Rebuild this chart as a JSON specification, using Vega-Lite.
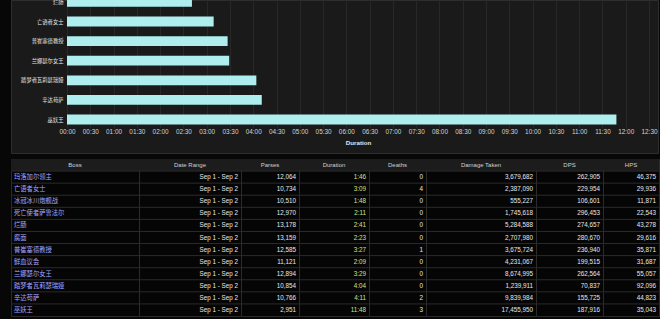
{
  "$schema": "https://vega.github.io/schema/vega-lite/v6.json",
  "background": "#070707",
  "padding": {"top": -2, "left": 10, "right": 2, "bottom": 2},
  "autosize": "pad",
  "spacing": 6,
  "bounds": "flush",
  "config": {
    "font": "Liberation Sans, Noto Sans CJK SC",
    "text": {"fontSize": 6.3, "font": "Liberation Sans, Noto Sans CJK SC"},
    "axis": {"labelFont": "Liberation Sans, Noto Sans CJK SC", "titleFont": "Liberation Sans, Noto Sans CJK SC"}
  },
  "datasets": {
    "bosses": [
      {"Boss": "玛洛加尔领主", "Date": "Sep 1 - Sep 2", "Parses": 12064, "Sec": 106, "Deaths": 0, "DamageTaken": 3679682, "DPS": 262905, "HPS": 46375},
      {"Boss": "亡语者女士", "Date": "Sep 1 - Sep 2", "Parses": 10734, "Sec": 189, "Deaths": 4, "DamageTaken": 2387090, "DPS": 229954, "HPS": 29936},
      {"Boss": "冰冠冰川炮舰战", "Date": "Sep 1 - Sep 2", "Parses": 10510, "Sec": 108, "Deaths": 0, "DamageTaken": 555227, "DPS": 106601, "HPS": 11871},
      {"Boss": "死亡使者萨鲁法尔", "Date": "Sep 1 - Sep 2", "Parses": 12970, "Sec": 131, "Deaths": 0, "DamageTaken": 1745618, "DPS": 296453, "HPS": 22543},
      {"Boss": "烂肠", "Date": "Sep 1 - Sep 2", "Parses": 13178, "Sec": 161, "Deaths": 0, "DamageTaken": 5284588, "DPS": 274657, "HPS": 43278},
      {"Boss": "腐面", "Date": "Sep 1 - Sep 2", "Parses": 13159, "Sec": 143, "Deaths": 0, "DamageTaken": 2707980, "DPS": 280670, "HPS": 29616},
      {"Boss": "普崔塞德教授", "Date": "Sep 1 - Sep 2", "Parses": 12585, "Sec": 207, "Deaths": 1, "DamageTaken": 3675724, "DPS": 236940, "HPS": 35871},
      {"Boss": "鲜血议会", "Date": "Sep 1 - Sep 2", "Parses": 11121, "Sec": 129, "Deaths": 0, "DamageTaken": 4231067, "DPS": 199515, "HPS": 31687},
      {"Boss": "兰娜瑟尔女王", "Date": "Sep 1 - Sep 2", "Parses": 12894, "Sec": 209, "Deaths": 0, "DamageTaken": 8674995, "DPS": 262564, "HPS": 55057},
      {"Boss": "踏梦者瓦莉瑟瑞娅", "Date": "Sep 1 - Sep 2", "Parses": 10854, "Sec": 244, "Deaths": 0, "DamageTaken": 1239911, "DPS": 70837, "HPS": 92096},
      {"Boss": "辛达苟萨", "Date": "Sep 1 - Sep 2", "Parses": 10766, "Sec": 251, "Deaths": 2, "DamageTaken": 9839984, "DPS": 155725, "HPS": 44823},
      {"Boss": "巫妖王", "Date": "Sep 1 - Sep 2", "Parses": 2951, "Sec": 708, "Deaths": 3, "DamageTaken": 17455950, "DPS": 187916, "HPS": 35043}
    ]
  },
  "vconcat": [
    {
      "width": 647,
      "height": 153,
      "data": {"name": "bosses"},
      "view": {"fill": "#1a1a1a", "stroke": "#2e2e2e"},
      "mark": {"type": "bar", "color": "#afeeee", "clip": true},
      "encoding": {
        "x": {
          "field": "Sec", "type": "quantitative",
          "scale": {"domain": [0, 750], "range": [56, 638], "nice": false},
          "axis": {
            "title": "Duration",
            "values": [0, 30, 60, 90, 120, 150, 180, 210, 240, 270, 300, 330, 360, 390, 420, 450, 480, 510, 540, 570, 600, 630, 660, 690, 720, 750],
            "labelExpr": "utcFormat(datum.value * 1000, '%M:%S')",
            "offset": -25,
            "ticks": true,
            "tickSize": -128,
            "tickColor": "#282828",
            "tickWidth": 1,
            "labelPadding": 128.5,
            "domain": false,
            "grid": false,
            "labelFontSize": 6.4,
            "labelColor": "#d4d4d4",
            "labelFlush": false,
            "labelOverlap": false,
            "titleFontSize": 6.2,
            "titleColor": "#e6e6e6",
            "titleFontWeight": "bold",
            "titlePadding": 4.5
          }
        },
        "y": {
          "field": "Boss", "type": "nominal",
          "sort": {"field": "Sec", "order": "ascending"},
          "scale": {"range": [-105.9, 129.3], "paddingInner": 0.5, "paddingOuter": 0.25},
          "axis": {
            "title": null,
            "values": ["烂肠", "亡语者女士", "普崔塞德教授", "兰娜瑟尔女王", "踏梦者瓦莉瑟瑞娅", "辛达苟萨", "巫妖王"],
            "offset": -54,
            "ticks": false,
            "domain": false,
            "grid": false,
            "labelPadding": 2,
            "labelFontSize": 5.3,
            "labelColor": "#e6e6e6"
          }
        }
      }
    },
    {
      "spacing": 0,
      "bounds": "flush",
      "hconcat": [
        {
          "width": 128, "height": 157,
          "view": {"fill": "#050505", "stroke": "#2b2b2b"},
          "layer": [
            {"data": {"values": [{"h": "Boss"}]}, "mark": {"type": "rect", "color": "#1c1c1c"}, "encoding": {"y": {"datum": "hdr", "type": "nominal", "scale": {"domain": ["hdr", "玛洛加尔领主", "亡语者女士", "冰冠冰川炮舰战", "死亡使者萨鲁法尔", "烂肠", "腐面", "普崔塞德教授", "鲜血议会", "兰娜瑟尔女王", "踏梦者瓦莉瑟瑞娅", "辛达苟萨", "巫妖王"], "paddingInner": 0, "paddingOuter": 0}, "axis": null}}},
            {"data": {"values": [{"h": "Boss"}]}, "mark": {"type": "text", "color": "#d0d0d0", "fontSize": 6}, "encoding": {"y": {"datum": "hdr", "type": "nominal"}, "text": {"field": "h"}}},
            {"data": {"name": "bosses"}, "mark": {"type": "rule", "color": "#2b2b2b"}, "encoding": {"y": {"field": "Boss", "type": "nominal", "bandPosition": 0}}},
            {"data": {"name": "bosses"}, "mark": {"type": "text", "align": "left", "dx": 3, "color": "#a4a6ff"}, "encoding": {"x": {"value": 0}, "y": {"field": "Boss", "type": "nominal"}, "text": {"field": "Boss"}}}
          ]
        },
        {
          "width": 102, "height": 157,
          "view": {"fill": "#050505", "stroke": "#2b2b2b"},
          "layer": [
            {"data": {"values": [{"h": "Date Range"}]}, "mark": {"type": "rect", "color": "#1c1c1c"}, "encoding": {"y": {"datum": "hdr", "type": "nominal", "scale": {"domain": ["hdr", "玛洛加尔领主", "亡语者女士", "冰冠冰川炮舰战", "死亡使者萨鲁法尔", "烂肠", "腐面", "普崔塞德教授", "鲜血议会", "兰娜瑟尔女王", "踏梦者瓦莉瑟瑞娅", "辛达苟萨", "巫妖王"], "paddingInner": 0, "paddingOuter": 0}, "axis": null}}},
            {"data": {"values": [{"h": "Date Range"}]}, "mark": {"type": "text", "color": "#d0d0d0", "fontSize": 6}, "encoding": {"y": {"datum": "hdr", "type": "nominal"}, "text": {"field": "h"}}},
            {"data": {"name": "bosses"}, "mark": {"type": "rule", "color": "#2b2b2b"}, "encoding": {"y": {"field": "Boss", "type": "nominal", "bandPosition": 0}}},
            {"data": {"name": "bosses"}, "mark": {"type": "text", "align": "right", "dx": -3, "color": "#e8e8e8"}, "encoding": {"x": {"value": "width"}, "y": {"field": "Boss", "type": "nominal"}, "text": {"field": "Date"}}}
          ]
        },
        {
          "width": 58, "height": 157,
          "view": {"fill": "#050505", "stroke": "#2b2b2b"},
          "layer": [
            {"data": {"values": [{"h": "Parses"}]}, "mark": {"type": "rect", "color": "#1c1c1c"}, "encoding": {"y": {"datum": "hdr", "type": "nominal", "scale": {"domain": ["hdr", "玛洛加尔领主", "亡语者女士", "冰冠冰川炮舰战", "死亡使者萨鲁法尔", "烂肠", "腐面", "普崔塞德教授", "鲜血议会", "兰娜瑟尔女王", "踏梦者瓦莉瑟瑞娅", "辛达苟萨", "巫妖王"], "paddingInner": 0, "paddingOuter": 0}, "axis": null}}},
            {"data": {"values": [{"h": "Parses"}]}, "mark": {"type": "text", "color": "#d0d0d0", "fontSize": 6}, "encoding": {"y": {"datum": "hdr", "type": "nominal"}, "text": {"field": "h"}}},
            {"data": {"name": "bosses"}, "mark": {"type": "rule", "color": "#2b2b2b"}, "encoding": {"y": {"field": "Boss", "type": "nominal", "bandPosition": 0}}},
            {"data": {"name": "bosses"}, "mark": {"type": "text", "align": "right", "dx": -3, "color": "#e8e8e8"}, "encoding": {"x": {"value": "width"}, "y": {"field": "Boss", "type": "nominal"}, "text": {"field": "Parses", "type": "quantitative", "format": ","}}}
          ]
        },
        {
          "width": 70, "height": 157,
          "view": {"fill": "#050505", "stroke": "#2b2b2b"},
          "layer": [
            {"data": {"values": [{"h": "Duration"}]}, "mark": {"type": "rect", "color": "#1c1c1c"}, "encoding": {"y": {"datum": "hdr", "type": "nominal", "scale": {"domain": ["hdr", "玛洛加尔领主", "亡语者女士", "冰冠冰川炮舰战", "死亡使者萨鲁法尔", "烂肠", "腐面", "普崔塞德教授", "鲜血议会", "兰娜瑟尔女王", "踏梦者瓦莉瑟瑞娅", "辛达苟萨", "巫妖王"], "paddingInner": 0, "paddingOuter": 0}, "axis": null}}},
            {"data": {"values": [{"h": "Duration"}]}, "mark": {"type": "text", "color": "#d0d0d0", "fontSize": 6}, "encoding": {"y": {"datum": "hdr", "type": "nominal"}, "text": {"field": "h"}}},
            {"data": {"name": "bosses"}, "mark": {"type": "rule", "color": "#2b2b2b"}, "encoding": {"y": {"field": "Boss", "type": "nominal", "bandPosition": 0}}},
            {"data": {"name": "bosses"}, "transform": [{"calculate": "floor(datum.Sec / 60) + ':' + (datum.Sec % 60 < 10 ? '0' : '') + (datum.Sec % 60)", "as": "DurText"}], "mark": {"type": "text", "align": "right", "dx": -3, "color": "#cbe48f"}, "encoding": {"x": {"value": "width"}, "y": {"field": "Boss", "type": "nominal"}, "text": {"field": "DurText"}}}
          ]
        },
        {
          "width": 57, "height": 157,
          "view": {"fill": "#050505", "stroke": "#2b2b2b"},
          "layer": [
            {"data": {"values": [{"h": "Deaths"}]}, "mark": {"type": "rect", "color": "#1c1c1c"}, "encoding": {"y": {"datum": "hdr", "type": "nominal", "scale": {"domain": ["hdr", "玛洛加尔领主", "亡语者女士", "冰冠冰川炮舰战", "死亡使者萨鲁法尔", "烂肠", "腐面", "普崔塞德教授", "鲜血议会", "兰娜瑟尔女王", "踏梦者瓦莉瑟瑞娅", "辛达苟萨", "巫妖王"], "paddingInner": 0, "paddingOuter": 0}, "axis": null}}},
            {"data": {"values": [{"h": "Deaths"}]}, "mark": {"type": "text", "color": "#d0d0d0", "fontSize": 6}, "encoding": {"y": {"datum": "hdr", "type": "nominal"}, "text": {"field": "h"}}},
            {"data": {"name": "bosses"}, "mark": {"type": "rule", "color": "#2b2b2b"}, "encoding": {"y": {"field": "Boss", "type": "nominal", "bandPosition": 0}}},
            {"data": {"name": "bosses"}, "mark": {"type": "text", "align": "right", "dx": -3, "color": "#e8e8e8"}, "encoding": {"x": {"value": "width"}, "y": {"field": "Boss", "type": "nominal"}, "text": {"field": "Deaths", "type": "quantitative", "format": ","}}}
          ]
        },
        {
          "width": 110, "height": 157,
          "view": {"fill": "#050505", "stroke": "#2b2b2b"},
          "layer": [
            {"data": {"values": [{"h": "Damage Taken"}]}, "mark": {"type": "rect", "color": "#1c1c1c"}, "encoding": {"y": {"datum": "hdr", "type": "nominal", "scale": {"domain": ["hdr", "玛洛加尔领主", "亡语者女士", "冰冠冰川炮舰战", "死亡使者萨鲁法尔", "烂肠", "腐面", "普崔塞德教授", "鲜血议会", "兰娜瑟尔女王", "踏梦者瓦莉瑟瑞娅", "辛达苟萨", "巫妖王"], "paddingInner": 0, "paddingOuter": 0}, "axis": null}}},
            {"data": {"values": [{"h": "Damage Taken"}]}, "mark": {"type": "text", "color": "#d0d0d0", "fontSize": 6}, "encoding": {"y": {"datum": "hdr", "type": "nominal"}, "text": {"field": "h"}}},
            {"data": {"name": "bosses"}, "mark": {"type": "rule", "color": "#2b2b2b"}, "encoding": {"y": {"field": "Boss", "type": "nominal", "bandPosition": 0}}},
            {"data": {"name": "bosses"}, "mark": {"type": "text", "align": "right", "dx": -3, "color": "#e8e8e8"}, "encoding": {"x": {"value": "width"}, "y": {"field": "Boss", "type": "nominal"}, "text": {"field": "DamageTaken", "type": "quantitative", "format": ","}}}
          ]
        },
        {
          "width": 67, "height": 157,
          "view": {"fill": "#050505", "stroke": "#2b2b2b"},
          "layer": [
            {"data": {"values": [{"h": "DPS"}]}, "mark": {"type": "rect", "color": "#1c1c1c"}, "encoding": {"y": {"datum": "hdr", "type": "nominal", "scale": {"domain": ["hdr", "玛洛加尔领主", "亡语者女士", "冰冠冰川炮舰战", "死亡使者萨鲁法尔", "烂肠", "腐面", "普崔塞德教授", "鲜血议会", "兰娜瑟尔女王", "踏梦者瓦莉瑟瑞娅", "辛达苟萨", "巫妖王"], "paddingInner": 0, "paddingOuter": 0}, "axis": null}}},
            {"data": {"values": [{"h": "DPS"}]}, "mark": {"type": "text", "color": "#d0d0d0", "fontSize": 6}, "encoding": {"y": {"datum": "hdr", "type": "nominal"}, "text": {"field": "h"}}},
            {"data": {"name": "bosses"}, "mark": {"type": "rule", "color": "#2b2b2b"}, "encoding": {"y": {"field": "Boss", "type": "nominal", "bandPosition": 0}}},
            {"data": {"name": "bosses"}, "mark": {"type": "text", "align": "right", "dx": -3, "color": "#e8e8e8"}, "encoding": {"x": {"value": "width"}, "y": {"field": "Boss", "type": "nominal"}, "text": {"field": "DPS", "type": "quantitative", "format": ","}}}
          ]
        },
        {
          "width": 56, "height": 157,
          "view": {"fill": "#050505", "stroke": "#2b2b2b"},
          "layer": [
            {"data": {"values": [{"h": "HPS"}]}, "mark": {"type": "rect", "color": "#1c1c1c"}, "encoding": {"y": {"datum": "hdr", "type": "nominal", "scale": {"domain": ["hdr", "玛洛加尔领主", "亡语者女士", "冰冠冰川炮舰战", "死亡使者萨鲁法尔", "烂肠", "腐面", "普崔塞德教授", "鲜血议会", "兰娜瑟尔女王", "踏梦者瓦莉瑟瑞娅", "辛达苟萨", "巫妖王"], "paddingInner": 0, "paddingOuter": 0}, "axis": null}}},
            {"data": {"values": [{"h": "HPS"}]}, "mark": {"type": "text", "color": "#d0d0d0", "fontSize": 6}, "encoding": {"y": {"datum": "hdr", "type": "nominal"}, "text": {"field": "h"}}},
            {"data": {"name": "bosses"}, "mark": {"type": "rule", "color": "#2b2b2b"}, "encoding": {"y": {"field": "Boss", "type": "nominal", "bandPosition": 0}}},
            {"data": {"name": "bosses"}, "mark": {"type": "text", "align": "right", "dx": -3, "color": "#e8e8e8"}, "encoding": {"x": {"value": "width"}, "y": {"field": "Boss", "type": "nominal"}, "text": {"field": "HPS", "type": "quantitative", "format": ","}}}
          ]
        }
      ]
    }
  ]
}
